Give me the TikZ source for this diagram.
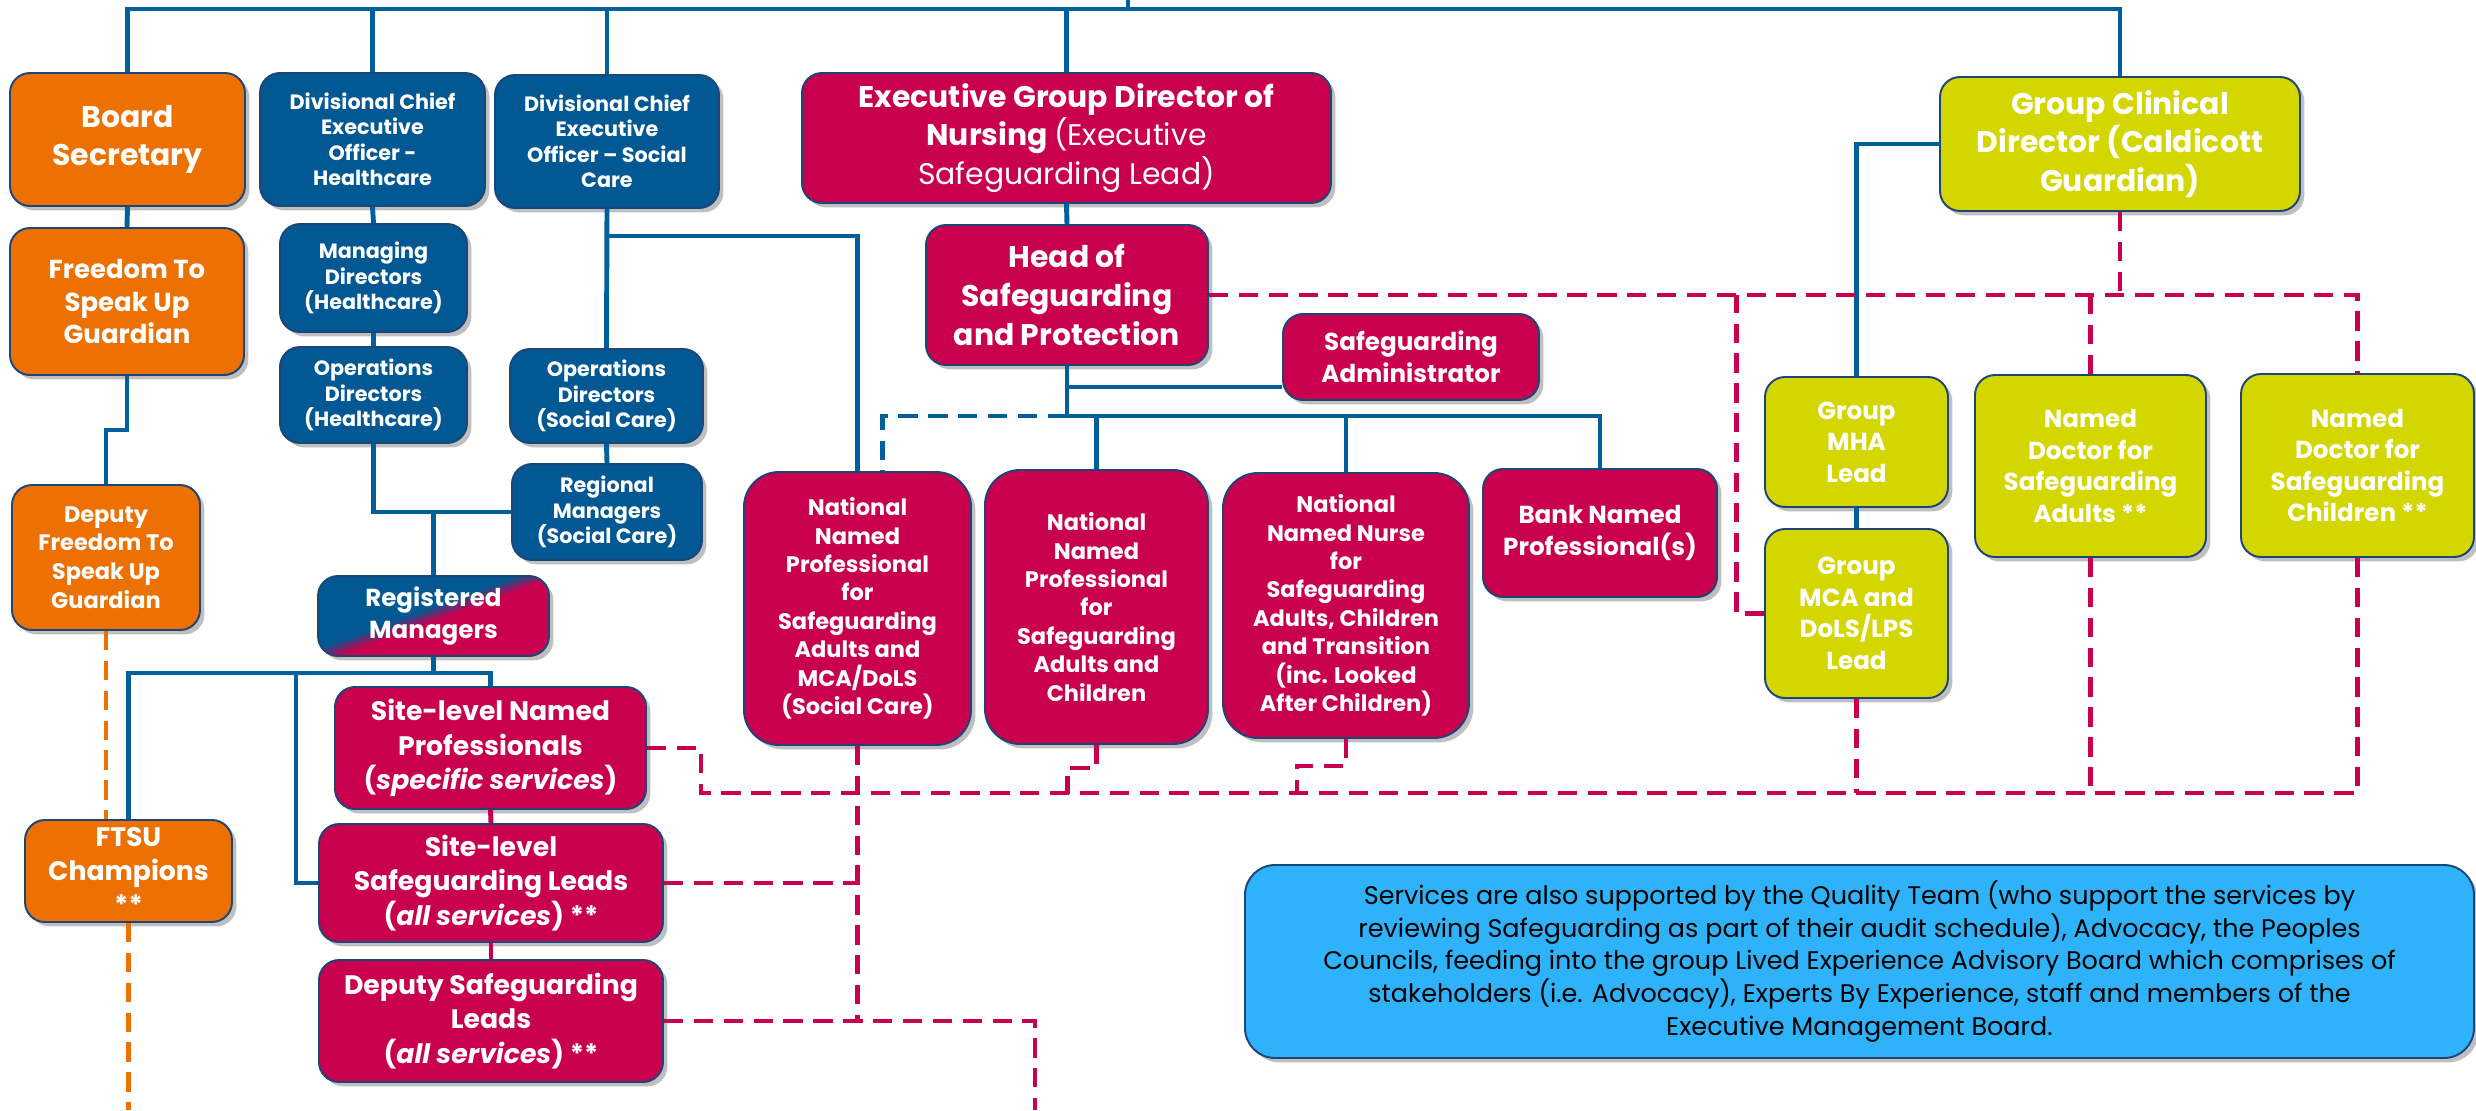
\documentclass[tikz,border=0pt]{standalone}
\usepackage{fontspec}
\setmainfont{Poppins}
\usetikzlibrary{shadows,calc}

\definecolor{cOrange}{RGB}{237,112,3}
\definecolor{cBlue}{RGB}{1,88,146}
\definecolor{cRed}{RGB}{200,0,78}
\definecolor{cLime}{RGB}{212,214,0}
\definecolor{cCyan}{RGB}{46,178,250}
\definecolor{cEdge}{RGB}{28,70,120}
\definecolor{cLine}{RGB}{0,96,156}

\pgfdeclarehorizontalshading{regshade}{100bp}{color(0bp)=(cBlue); color(46bp)=(cBlue); color(52bp)=(cRed); color(100bp)=(cRed)}

\begin{document}
\begin{tikzpicture}[x=0.02cm, y=-0.02cm,
  sz/.style 2 args={minimum width=#1*0.02cm, minimum height=#2*0.02cm},
  main/.style={draw=cEdge, line width=1.1pt, rounded corners=0.4cm, align=center, text=white, inner sep=0pt,
    drop shadow={fill=black, opacity=0.25, shadow xshift=2.5pt, shadow yshift=-2.5pt}},
  orgbox/.style={main, fill=cOrange},
  bluebox/.style={main, fill=cBlue},
  redbox/.style={main, fill=cRed},
  limebox/.style={main, fill=cLime},
  natbox/.style={redbox, rounded corners=0.7cm},
  fbig/.style={font=\fontsize{17}{22}\selectfont\bfseries},
  fguard/.style={font=\fontsize{14.8}{18.7}\selectfont\bfseries},
  fsite/.style={font=\fontsize{15.2}{19.5}\selectfont\bfseries},
  fmid/.style={font=\fontsize{14}{18}\selectfont\bfseries},
  fnat/.style={font=\fontsize{12.8}{16.2}\selectfont\bfseries},
  fsmall/.style={font=\fontsize{11.8}{14.5}\selectfont\bfseries},
  fnote/.style={font=\fontsize{14.5}{18.7}\selectfont},
  conn/.style={draw=cLine, line width=2.8pt},
  redline/.style={draw=cRed, line width=2.8pt},
  reddash/.style={draw=cRed, line width=2.8pt, dash pattern=on 11pt off 6pt},
  orgdash/.style={draw=cOrange, line width=2.8pt, dash pattern=on 11pt off 6pt},
  bluedash/.style={draw=cLine, line width=2.8pt, dash pattern=on 11pt off 6pt}]

\useasboundingbox[fill=white] (0,0) rectangle (2476,1110);

% top row
\node[orgbox, fbig, sz={235}{133}] (1) at (127.5,139.5) {Board\\Secretary};
\node[bluebox, fsmall, sz={225}{133}] (2) at (372.5,139.5) {Divisional Chief\\Executive\\Officer -\\Healthcare};
\node[bluebox, fsmall, sz={224}{133}] (3) at (607,141.5) {Divisional Chief\\Executive\\Officer -- Social\\Care};
\node[redbox, fbig, sz={529}{130}] (4) at (1066.5,138) {Executive Group Director of\\Nursing {\mdseries(Executive}\\{\mdseries Safeguarding Lead)}};
\node[limebox, fbig, sz={360}{134}] (5) at (2120,144) {Group Clinical\\Director (Caldicott\\Guardian)};

% second level
\node[orgbox, fguard, sz={234}{147}] (6) at (127,301.5) {Freedom To\\Speak Up\\Guardian};
\node[bluebox, fsmall, sz={187}{108}] (7) at (373.5,278) {Managing\\Directors\\(Healthcare)};
\node[redbox, fbig, sz={282}{140}] (8) at (1067,295) {Head of\\Safeguarding\\and Protection};
\node[bluebox, fsmall, sz={187}{96}] (9) at (373.5,395) {Operations\\Directors\\(Healthcare)};
\node[bluebox, fsmall, sz={193}{94}] (10) at (606.5,396) {Operations\\Directors\\(Social Care)};
\node[redbox, fmid, sz={256}{86}] (11) at (1411,357) {Safeguarding\\Administrator};
\node[orgbox, font=\fontsize{12.8}{16.4}\selectfont\bfseries, sz={188}{145}] (12) at (106,557.5) {Deputy\\Freedom To\\Speak Up\\Guardian};
\node[bluebox, fsmall, sz={190}{96}] (13) at (607,512) {Regional\\Managers\\(Social Care)};
\node[limebox, fmid, sz={183}{130}] (14) at (1856.5,442) {Group\\MHA\\Lead};
\node[limebox, fmid, sz={231}{182}] (15) at (2090.5,466) {Named\\Doctor for\\Safeguarding\\Adults **};
\node[limebox, fmid, sz={233}{183}] (16) at (2357.5,465.5) {Named\\Doctor for\\Safeguarding\\Children **};

% national named professionals
\node[natbox, fnat, sz={227}{273}] (17) at (857.5,608.5) {National\\Named\\Professional\\for\\Safeguarding\\Adults and\\MCA/DoLS\\(Social Care)};
\node[natbox, fnat, sz={223}{274}] (18) at (1096.5,607) {National\\Named\\Professional\\for\\Safeguarding\\Adults and\\Children};
\node[natbox, fnat, sz={246}{265}] (19) at (1346,605.5) {National\\Named Nurse\\for\\Safeguarding\\Adults, Children\\and Transition\\(inc. Looked\\After Children)};
\node[redbox, fmid, sz={234}{128}] (20) at (1600,533) {Bank Named\\Professional(s)};
\node[limebox, fmid, sz={183}{169}] (21) at (1856.5,613.5) {Group\\MCA and\\DoLS/LPS\\Lead};

% site level
\node[main, shading=regshade, shading angle=-70, fmid, sz={231}{80}] (22) at (433.5,616) {Registered\\Managers};
\node[redbox, fsite, sz={311}{122}] (23) at (490.5,748) {Site-level Named\\Professionals\\(\textit{specific services})};
\node[redbox, fsite, sz={344}{118}] (24) at (491,883) {Site-level\\Safeguarding Leads\\(\textit{all services}) **};
\node[orgbox, fsite, sz={207}{102}] (25) at (128.5,871) {FTSU\\Champions\\**};
\node[redbox, fsite, sz={344}{122}] (26) at (491,1021) {Deputy Safeguarding\\Leads\\(\textit{all services}) **};

\node[main, fill=cCyan, text=black, rounded corners=0.6cm, fnote, sz={1229}{193}] (27) at (1859.5,961.5)
  {Services are also supported by the Quality Team (who support the services by\\
   reviewing Safeguarding as part of their audit schedule), Advocacy, the Peoples\\
   Councils, feeding into the group Lived Experience Advisory Board which comprises of\\
   stakeholders (i.e. Advocacy), Experts By Experience, staff and members of the\\
   Executive Management Board.};

% solid lines
\coordinate (t) at (0,9);
\coordinate (r) at (1128,0);
\draw[conn] (r) -- (r |- t);
\draw[conn] (1.north) |- (5.north |- t) -- (5.north);
\draw[conn] (2.north) -- (2.north |- t);
\draw[conn] (3.north) -- (3.north |- t);
\draw[conn] (4.north) -- (4.north |- t);
\draw[conn] (1.south) -- (6.north);
\draw[conn] (6.south) |- (12.north |- 0,430) -- (12.north);
\draw[conn] (2.south) -- (7.north);
\draw[conn] (7.south) -- (9.north);
\draw[conn] (9.south) |- (13.west);
\draw[conn] (22.north) -- (22.north |- 13.west);
\draw[conn] (3.south) -- (10.north);
\draw[conn] (10.south) -- (13.north);
\draw[conn] (3.south |- 0,236) -| (17.north);
\draw[conn] (4.south) -- (8.north);
\draw[conn] (8.south) -- (8.south |- 0,416);
\draw[conn] (8.south |- 0,387) -- (11.west |- 0,387);
\draw[conn] (8.south |- 0,416) -| (20.north);
\draw[conn] (18.north) -- (18.north |- 0,416);
\draw[conn] (19.north) -- (19.north |- 0,416);
\draw[bluedash] (8.south |- 0,416) -| ([xshift=0.5cm]17.north);
\draw[conn] (5.west) -| (14.north);
\draw[conn] (14.south) -- (21.north);
\draw[conn] (22.south) -- (22.south |- 0,673);
\draw[conn] (25.north) |- (23.north |- 0,673) -- (23.north);
\draw[conn] (24.west) -- ++(-22,0) -- ++(0,-210);
\draw[redline] (23.south) -- (24.north);
\draw[redline] (24.south) -- (26.north);

% dashed lines
\draw[reddash] (8.east) -| (16.north);
\draw[reddash] (5.south) -- (5.south |- 8.east);
\draw[reddash] (15.north) -- (15.north |- 8.east);
\draw[reddash] (21.west) -- ++(-28,0) coordinate (k) -- (k |- 8.east);
\draw[reddash] (23.east) -- ++(54,0) -- ++(0,45) -| (16.south);
\draw[reddash] (15.south) -- (15.south |- 0,793);
\draw[reddash] (21.south) -- (21.south |- 0,793);
\draw[reddash] (19.south) -- ++(0,27) -- ++(-49,0) -- ++(0,28);
\draw[reddash] (18.south) -- ++(0,23) -- ++(-29,0) -- ++(0,26);
\draw[reddash] (17.south) -- ++(0,275);
\draw[reddash] (24.east) -- (17.south |- 24.east);
\coordinate (e1) at (1035,1110);
\draw[reddash] (26.east) -| (e1);
\draw[orgdash] (12.south) -- (12.south |- 25.north);
\coordinate (e2) at (128.5,1110);
\draw[orgdash] (25.south) -- (e2);
\end{tikzpicture}
\end{document}
